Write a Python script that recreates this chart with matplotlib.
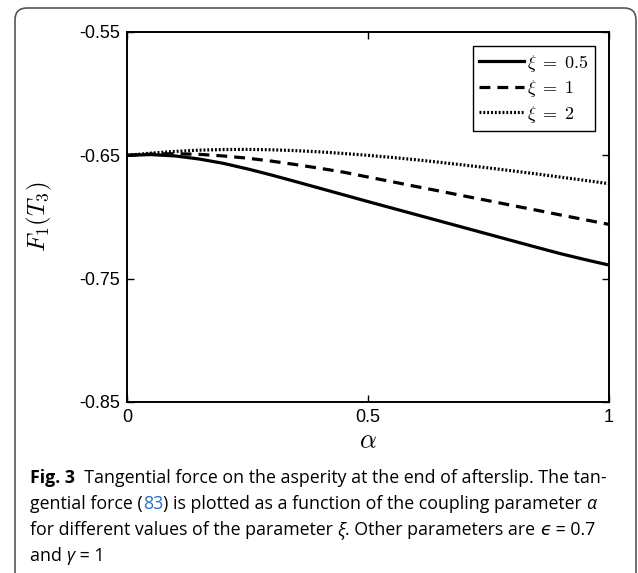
import matplotlib
matplotlib.use("Agg")
import matplotlib.pyplot as plt
from matplotlib import font_manager as fm
from matplotlib.patches import FancyBboxPatch
from matplotlib.transforms import IdentityTransform

# ---- data ----
alpha = [0.00, 0.05, 0.10, 0.15, 0.20, 0.25, 0.30, 0.35, 0.40, 0.45, 0.50,
         0.55, 0.60, 0.65, 0.70, 0.75, 0.80, 0.85, 0.90, 0.95, 1.00]
f_xi05 = [-0.6500, -0.6494, -0.6505, -0.6530, -0.6565, -0.6610, -0.6660, -0.6713,
          -0.6767, -0.6821, -0.6875, -0.6928, -0.6981, -0.7034, -0.7087, -0.7140,
          -0.7193, -0.7246, -0.7298, -0.7345, -0.7390]
f_xi1 = [-0.6500, -0.6490, -0.6487, -0.6492, -0.6505, -0.6523, -0.6547, -0.6575,
         -0.6605, -0.6637, -0.6676, -0.6714, -0.6753, -0.6791, -0.6830, -0.6868,
         -0.6907, -0.6945, -0.6984, -0.7022, -0.7060]
f_xi2 = [-0.6500, -0.6482, -0.6468, -0.6458, -0.6453, -0.6452, -0.6455, -0.6462,
         -0.6472, -0.6485, -0.6500, -0.6517, -0.6536, -0.6557, -0.6579, -0.6602,
         -0.6626, -0.6651, -0.6677, -0.6703, -0.6730]
series_labels = [r"$\xi\;=\;0.5$", r"$\xi\;=\;1$", r"$\xi\;=\;2$"]
x_ticks = [0, 0.5, 1]
x_ticklabels = ["0", "0.5", "1"]
y_ticks = [-0.85, -0.75, -0.65, -0.55]
y_ticklabels = ["-0.85", "-0.75", "-0.65", "-0.55"]

W, H = 638, 573
plt.rcParams['mathtext.fontset'] = 'cm'
plt.rcParams['font.family'] = ['Liberation Sans', 'DejaVu Sans']

fig = plt.figure(figsize=(W / 100, H / 100), dpi=100)
fig.patch.set_facecolor('white')

# frame around the figure + caption
box = FancyBboxPatch((15, -30), 636 - 15, H - 8 + 30,
                     boxstyle="round,pad=0,rounding_size=12",
                     transform=IdentityTransform(), facecolor='none',
                     edgecolor='#555555', linewidth=1.2, zorder=0)
fig.patches.append(box)

ax = fig.add_axes([127 / W, 1 - 402 / H, (609 - 127) / W, (402 - 32) / H])
ax.plot(alpha, f_xi05, color='black', lw=2.3, ls='-', label=series_labels[0])
ax.plot(alpha, f_xi1, color='black', lw=2.3, ls=(0, (3.4, 2.2)), label=series_labels[1])
ax.plot(alpha, f_xi2, color='black', lw=2.3, ls=(0, (0.6, 0.6)), label=series_labels[2])
ax.set_xlim(0, 1)
ax.set_ylim(-0.85, -0.55)
ax.set_xticks(x_ticks)
ax.set_xticklabels(x_ticklabels)
ax.set_yticks(y_ticks)
ax.set_yticklabels(y_ticklabels)
ax.tick_params(direction='in', length=5, width=1, top=True, right=True,
               labelsize=13, pad=5)
for s in ax.spines.values():
    s.set_linewidth(1.4)
ax.set_xlabel(r"$\alpha$", fontsize=19, labelpad=2)
ax.set_ylabel(r"$F_1(T_3)$", fontsize=18, labelpad=18)

leg = ax.legend(loc='upper right', fontsize=13, handlelength=2.5,
                handletextpad=0.15, borderpad=0.35, labelspacing=0.25,
                borderaxespad=0.8, fancybox=False, framealpha=1)
leg.get_frame().set_edgecolor('black')
leg.get_frame().set_linewidth(1.0)

# ---- caption ----
avail = {f.name for f in fm.fontManager.ttflist}
cap_family = 'Open Sans'
for cand in ['Liberation Sans Narrow', 'Open Sans', 'Noto Sans']:
    if cand in avail:
        cap_family = cand
        break

renderer = fig.canvas.get_renderer()

lines = [
    [("Fig. 3", 'bold', 'normal', 'black'), ("  Tangential force on the asperity at the end of afterslip. The tan-", 'normal', 'normal', 'black')],
    [("gential force (", 'normal', 'normal', 'black'), ("83", 'normal', 'normal', '#2a6ebb'),
     (") is plotted as a function of the coupling parameter ", 'normal', 'normal', 'black'), ("α", 'normal', 'italic', 'black')],
    [("for different values of the parameter ", 'normal', 'normal', 'black'), ("ξ", 'normal', 'italic', 'black'),
     (". Other parameters are ", 'normal', 'normal', 'black'), ("ϵ", 'normal', 'italic', 'black'), (" = 0.7", 'normal', 'normal', 'black')],
    [("and ", 'normal', 'normal', 'black'), ("γ", 'normal', 'italic', 'black'), (" = 1", 'normal', 'normal', 'black')],
]

def measure(s, weight, style, size):
    t = fig.text(0, 0, "|" + s + "|", fontsize=size, family=[cap_family, 'DejaVu Sans'],
                 weight=weight, style=style)
    w = t.get_window_extent(renderer).width
    t.remove()
    t2 = fig.text(0, 0, "||", fontsize=size, family=[cap_family, 'DejaVu Sans'],
                  weight=weight, style=style)
    w2 = t2.get_window_extent(renderer).width
    t2.remove()
    return w - w2

# fit first line width
base = 10
w0 = sum(measure(s, wt, st, base) for s, wt, st, c in lines[0])
cap_size = base * (578 / w0)

baselines = [483, 509, 535, 561]
x0 = 30
for line, yb in zip(lines, baselines):
    x = x0
    for s, wt, st, c in line:
        fig.text(x / W, 1 - yb / H, s, fontsize=cap_size, family=[cap_family, 'DejaVu Sans'],
                 weight=wt, style=st, color=c, va='baseline', ha='left')
        x += measure(s, wt, st, cap_size)

fig.savefig("out.png", dpi=100)
